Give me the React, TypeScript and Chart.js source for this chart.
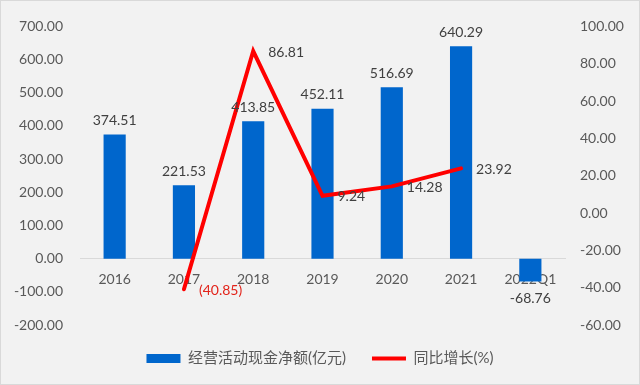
import React, { useEffect, useRef } from "react";
import { Chart, registerables } from "chart.js";

Chart.register(...registerables);

const categories = ["2016", "2017", "2018", "2019", "2020", "2021", "2022Q1"];
const cashFlow = [374.51, 221.53, 413.85, 452.11, 516.69, 640.29, -68.76];
const growth: (number | null)[] = [null, -40.85, 86.81, 9.24, 14.28, 23.92, null];
const barLabel = "经营活动现金净额(亿元)";
const lineLabel = "同比增长(%)";

const NUM_FONT = 'Lato, "Liberation Sans", sans-serif';
const CJK_FONT = 'Lato, "Noto Sans CJK SC", sans-serif';

const dataLabels = {
  id: "dataLabels",
  afterDatasetsDraw(chart: any) {
    const ctx = chart.ctx;
    ctx.save();
    ctx.font = `14px ${NUM_FONT}`;
    chart.data.datasets.forEach((ds: any, di: number) => {
      const meta = chart.getDatasetMeta(di);
      meta.data.forEach((el: any, i: number) => {
        const v = ds.data[i];
        if (v === null || v === undefined) return;
        if (ds.type === "bar") {
          ctx.textAlign = "center";
          ctx.fillStyle = "#404040";
          if (v >= 0) {
            ctx.textBaseline = "bottom";
            ctx.fillText(v.toFixed(2), el.x, el.y - 7);
          } else {
            ctx.textBaseline = "top";
            ctx.fillText(v.toFixed(2), el.x, el.y + 10);
          }
        } else {
          ctx.textAlign = "left";
          ctx.textBaseline = "middle";
          if (v < 0) {
            ctx.fillStyle = "#e2231a";
            ctx.fillText(`(${Math.abs(v).toFixed(2)})`, el.x + 15, el.y + 1);
          } else {
            ctx.fillStyle = "#404040";
            ctx.fillText(v.toFixed(2), el.x + 15, el.y + 1);
          }
        }
      });
    });
    ctx.restore();
  },
};

export default function App() {
  const ref = useRef<HTMLCanvasElement>(null);
  useEffect(() => {
    document.body.style.margin = "0";
    const chart = new Chart(ref.current as HTMLCanvasElement, {
      type: "bar",
      data: {
        labels: categories,
        datasets: [
          {
            type: "bar",
            label: barLabel,
            data: cashFlow,
            backgroundColor: "#0066cc",
            borderWidth: 0,
            yAxisID: "y",
            order: 1,
            barPercentage: 0.32,
            categoryPercentage: 1,
          } as any,
          {
            type: "line",
            label: lineLabel,
            data: growth,
            borderColor: "#ff0000",
            backgroundColor: "#ff0000",
            borderWidth: 4,
            pointRadius: 0,
            borderCapStyle: "round",
            borderJoinStyle: "miter",
            yAxisID: "y1",
            order: 0,
          } as any,
        ],
      },
      options: {
        animation: false,
        responsive: true,
        maintainAspectRatio: false,
        layout: { padding: { top: 19, bottom: 8, left: 0, right: 0 } },
        plugins: {
          tooltip: { enabled: false },
          legend: {
            position: "bottom",
            labels: {
              usePointStyle: true,
              pointStyleWidth: 34,
              boxHeight: 9,
              padding: 26,
              color: "#595959",
              font: { size: 15, family: CJK_FONT },
              sort: (a: any, b: any) => a.datasetIndex - b.datasetIndex,
              generateLabels: (chart: any) => {
                const items = (Chart.defaults.plugins.legend.labels as any).generateLabels(chart);
                items.forEach((it: any) => {
                  if (it.datasetIndex === 0) {
                    it.pointStyle = "rect";
                    it.lineWidth = 0;
                    it.strokeStyle = "#0066cc";
                  } else {
                    it.pointStyle = "line";
                    it.lineWidth = 4;
                    it.strokeStyle = "#ff0000";
                  }
                });
                return items;
              },
            },
          },
        },
        scales: {
          x: {
            type: "category",
            position: { y: 0 } as any,
            offset: true,
            grid: { display: false, drawTicks: false },
            border: { display: true, color: "#d9d9d9", width: 1 },
            ticks: { color: "#595959", font: { size: 14, family: NUM_FONT }, padding: 12, maxRotation: 0 },
          },
          y: {
            position: "left",
            min: -200,
            max: 700,
            grid: { display: false, drawTicks: false },
            border: { display: false },
            ticks: {
              stepSize: 100,
              color: "#595959",
              font: { size: 14, family: NUM_FONT },
              padding: 17,
              callback: (v: any) => Number(v).toFixed(2),
            },
            afterFit: (s: any) => {
              s.width = 79;
            },
          },
          y1: {
            position: "right",
            min: -60,
            max: 100,
            grid: { display: false, drawTicks: false },
            border: { display: false },
            ticks: {
              stepSize: 20,
              color: "#595959",
              font: { size: 14, family: NUM_FONT },
              padding: 15,
              callback: (v: any) => Number(v).toFixed(2),
            },
            afterFit: (s: any) => {
              s.width = 74;
            },
          },
        },
      } as any,
      plugins: [dataLabels],
    });
    return () => chart.destroy();
  }, []);
  return (
    <div
      style={{
        position: "relative",
        width: 640,
        height: 385,
        boxSizing: "border-box",
        border: "1px solid #d9d9d9",
        background: "#f2f2f2",
      }}
    >
      <canvas ref={ref} />
    </div>
  );
}
